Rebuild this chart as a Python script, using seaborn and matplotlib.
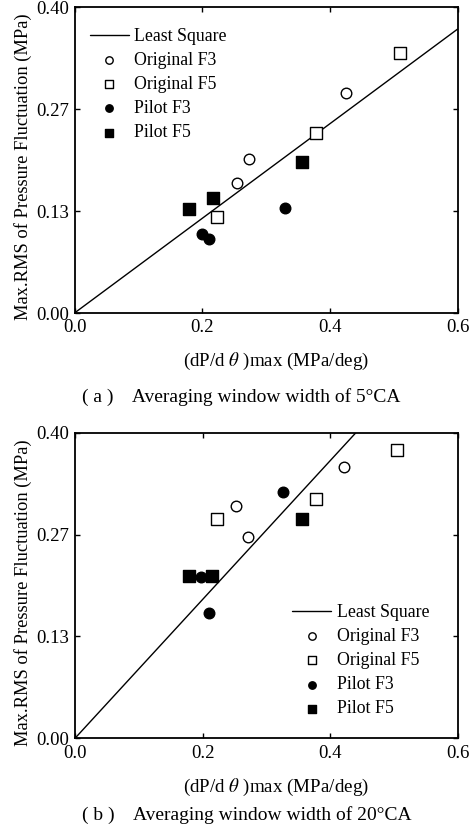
import matplotlib
matplotlib.use("Agg")
import matplotlib.pyplot as plt
import seaborn as sns
import numpy as np
import pandas as pd

sns.set_theme(style="white")
plt.rcParams["font.family"] = ["Liberation Serif", "DejaVu Serif"]
plt.rcParams["mathtext.fontset"] = "stix"

# ---- panel (a): 5 deg CA averaging window ----
a_orig_f3_x = [0.255, 0.274, 0.426]
a_orig_f3_y = [0.170, 0.202, 0.288]
a_orig_f5_x = [0.224, 0.378, 0.510]
a_orig_f5_y = [0.125, 0.236, 0.340]
a_pilot_f3_x = [0.200, 0.211, 0.329]
a_pilot_f3_y = [0.103, 0.097, 0.137]
a_pilot_f5_x = [0.180, 0.217, 0.356]
a_pilot_f5_y = [0.136, 0.150, 0.198]
a_slope = 0.619

# ---- panel (b): 20 deg CA averaging window ----
b_orig_f3_x = [0.252, 0.271, 0.421]
b_orig_f3_y = [0.304, 0.264, 0.355]
b_orig_f5_x = [0.223, 0.377, 0.505]
b_orig_f5_y = [0.287, 0.313, 0.377]
b_pilot_f3_x = [0.198, 0.210, 0.326]
b_pilot_f3_y = [0.211, 0.164, 0.322]
b_pilot_f5_x = [0.178, 0.214, 0.355]
b_pilot_f5_y = [0.212, 0.212, 0.287]
b_slope = 0.909

xticks = [0.0, 0.2, 0.4, 0.6]
xtick_labels = ["0.0", "0.2", "0.4", "0.6"]
yticks = [0.0, 0.4 / 3, 0.8 / 3, 0.4]
ytick_labels = ["0.00", "0.13", "0.27", "0.40"]

series_names = ["Original F3", "Original F5", "Pilot F3", "Pilot F5"]
XLABEL = r"(dP/d $\theta$ )max (MPa/deg)"
YLABEL = "Max.RMS of Pressure Fluctuation (MPa)"

FS_TICK = 13.5
FS_XLABEL = 13.7
FS_YLABEL = 13.3
FS_LEG = 12.8
FS_CAP = 14

fig = plt.figure(figsize=(4.69, 8.26), dpi=100)
ax_a = fig.add_axes([74.5 / 469, (826 - 313) / 826, 383 / 469, 305.7 / 826])
ax_b = fig.add_axes([75 / 469, (826 - 738.3) / 826, 383 / 469, 305.6 / 826])


def draw_panel(ax, slope, series, legend_anchor):
    xs = np.array([0.0, 0.6])
    line_df = pd.DataFrame({"x": xs, "y": slope * xs})
    sns.lineplot(data=line_df, x="x", y="y", ax=ax, color="black",
                 linewidth=1.0, label="Least Square")
    styles = [
        dict(marker="o", facecolor="white", s=58),
        dict(marker="s", facecolor="white", s=78),
        dict(marker="o", facecolor="black", s=58),
        dict(marker="s", facecolor="black", s=78),
    ]
    for (x, y), name, st in zip(series, series_names, styles):
        df = pd.DataFrame({"x": x, "y": y})
        sns.scatterplot(data=df, x="x", y="y", ax=ax, marker=st["marker"],
                        color=st["facecolor"], edgecolor="black",
                        linewidth=1.0, s=st["s"], label=name, zorder=3)
    ax.set_xlim(0, 0.6)
    ax.set_ylim(0, 0.4)
    ax.set_xticks(xticks)
    ax.set_xticklabels(xtick_labels)
    ax.set_yticks(yticks)
    ax.set_yticklabels(ytick_labels)
    ax.tick_params(direction="in", length=3.5, width=1.0, labelsize=FS_TICK,
                   top=True, right=True, bottom=True, left=True, colors="black")
    ax.tick_params(axis="x", pad=4.5)
    ax.tick_params(axis="y", pad=4)
    for sp in ax.spines.values():
        sp.set_visible(True)
        sp.set_color("black")
        sp.set_linewidth(1.3)
    ax.set_xlabel(XLABEL, fontsize=FS_XLABEL, color="black")
    ax.set_ylabel(YLABEL, fontsize=FS_YLABEL, color="black")
    ax.xaxis.set_label_coords(0.525, -0.125)
    ax.yaxis.set_label_coords(-0.112, 0.478)
    leg = ax.legend(loc="upper left", bbox_to_anchor=legend_anchor,
                    frameon=False, fontsize=FS_LEG, borderpad=0, borderaxespad=0,
                    labelspacing=0.4, handlelength=2.2, handletextpad=0.3,
                    markerscale=0.7)
    for t in leg.get_texts():
        t.set_color("black")


draw_panel(ax_a, a_slope,
           [(a_orig_f3_x, a_orig_f3_y), (a_orig_f5_x, a_orig_f5_y),
            (a_pilot_f3_x, a_pilot_f3_y), (a_pilot_f5_x, a_pilot_f5_y)],
           (0.040, 0.933))
draw_panel(ax_b, b_slope,
           [(b_orig_f3_x, b_orig_f3_y), (b_orig_f5_x, b_orig_f5_y),
            (b_pilot_f3_x, b_pilot_f3_y), (b_pilot_f5_x, b_pilot_f5_y)],
           (0.567, 0.44))

fig.text(82 / 469, 1 - 397 / 826, "( a )    Averaging window width of 5\u00b0CA",
         fontsize=FS_CAP, ha="left", va="center", color="black")
fig.text(82 / 469, 1 - 815 / 826, "( b )    Averaging window width of 20\u00b0CA",
         fontsize=FS_CAP, ha="left", va="center", color="black")

fig.savefig("out.png", dpi=100, facecolor="white")
